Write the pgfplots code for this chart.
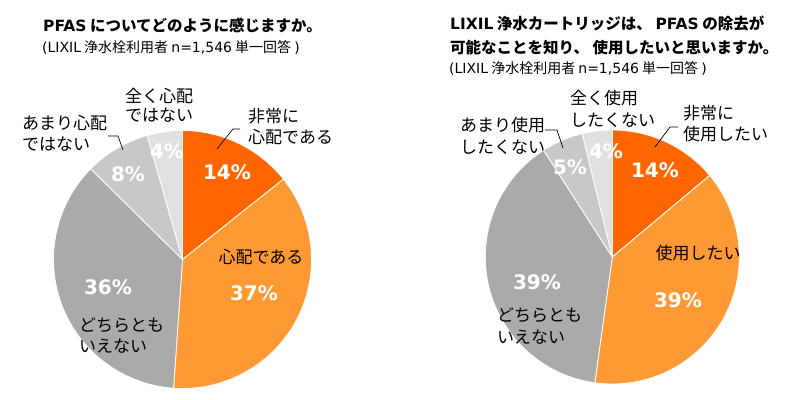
\documentclass[border=0pt]{standalone}
\usepackage{pgfplots}
\pgfplotsset{compat=1.18}
\usepackage{fontspec}
\setmainfont{Noto Sans CJK JP}
\newfontfamily\lat{DejaVu Sans}
\definecolor{cA}{HTML}{FF6600}
\definecolor{cB}{HTML}{FF9933}
\definecolor{cC}{HTML}{AAAAAA}
\definecolor{cD}{HTML}{C8C8C8}
\definecolor{cE}{HTML}{E0E0E0}
\newcommand{\lbl}{\fontsize{17}{21}\selectfont}
\newcommand{\pct}{\fontsize{20}{22}\selectfont\lat\bfseries}
\newcommand{\ttl}{\fontsize{15.5}{18}\selectfont\bfseries}
\newcommand{\sub}{\fontsize{14}{16}\selectfont}
\newcommand{\pieslice}[3]{%
  \addplot[fill=#3, draw=white, line width=0.8pt, domain=#1:#2, samples=80, variable=\t]
    ({cos(\t)},{sin(\t)}) -- (axis cs:0,0) -- cycle;}
\pgfplotsset{pieaxis/.style={hide axis, clip=false, anchor=center,
  xmin=-1, xmax=1, ymin=-1, ymax=1}}
\begin{document}
\begin{tikzpicture}[x=1pt,y=1pt]
\path[use as bounding box] (0,0) rectangle (795,399);
% data (percent)
\def\LA{14.3}\def\LB{36.8}\def\LC{36.3}\def\LD{8.2}\def\LE{4.4}
\def\RA{13.9}\def\RB{38.3}\def\RC{38.7}\def\RD{5.3}\def\RE{3.8}
\pgfmathsetmacro\la{90-3.6*\LA}
\pgfmathsetmacro\lb{\la-3.6*\LB}
\pgfmathsetmacro\lc{\lb-3.6*\LC}
\pgfmathsetmacro\ld{\lc-3.6*\LD}
\pgfmathsetmacro\le{\ld-3.6*\LE}
\pgfmathsetmacro\ra{90-3.6*\RA}
\pgfmathsetmacro\rb{\ra-3.6*\RB}
\pgfmathsetmacro\rc{\rb-3.6*\RC}
\pgfmathsetmacro\rd{\rc-3.6*\RD}
\pgfmathsetmacro\re{\rd-3.6*\RE}
\begin{axis}[pieaxis, x=129pt, y=129pt, at={(182.5pt,139.5pt)}]
\pieslice{\la}{90}{cA}
\pieslice{\lb}{\la}{cB}
\pieslice{\lc}{\lb}{cC}
\pieslice{\ld}{\lc}{cD}
\pieslice{\le}{\ld}{cE}
\end{axis}
\begin{axis}[pieaxis, x=127pt, y=127pt, at={(612.3pt,142pt)}]
\pieslice{\ra}{90}{cA}
\pieslice{\rb}{\ra}{cB}
\pieslice{\rc}{\rb}{cC}
\pieslice{\rd}{\rc}{cD}
\pieslice{\re}{\rd}{cE}
\end{axis}
% titles
\begin{scope}[every node/.style={inner sep=0pt, anchor=west}]
\node[font=\ttl] at (43,374) {{\lat PFAS} についてどのように感じますか。};
\node[font=\sub] at (42,352) {{\lat(LIXIL} 浄水栓利用者 {\lat n=1,546} 単一回答 {\lat)}};
\node[font=\ttl] at (450,375) {{\lat LIXIL} 浄水カートリッジは、 {\lat PFAS} の除去が};
\node[font=\ttl] at (450,351) {可能なことを知り、 使用したいと思いますか。};
\node[font=\sub] at (449,331) {{\lat(LIXIL} 浄水栓利用者 {\lat n=1,546} 単一回答 {\lat)}};
% left labels
\node[font=\lbl] at (248,283) {非常に};
\node[font=\lbl] at (248,262) {心配である};
\node[font=\lbl] at (79,74) {どちらとも};
\node[font=\lbl] at (79,53) {いえない};
\node[font=\lbl] at (22,276) {あまり心配};
\node[font=\lbl] at (22,255) {ではない};
\node[font=\lbl] at (125,303) {全く心配};
\node[font=\lbl] at (125,284) {ではない};
% right labels
\node[font=\lbl] at (683,286) {非常に};
\node[font=\lbl] at (683,265) {使用したい};
\node[font=\lbl] at (497,84) {どちらとも};
\node[font=\lbl] at (497,62) {いえない};
\node[font=\lbl] at (460,274) {あまり使用};
\node[font=\lbl] at (460,252) {したくない};
\node[font=\lbl] at (570,301) {全く使用};
\node[font=\lbl] at (570,279) {したくない};
\end{scope}
\node[font=\lbl, inner sep=0pt] at (261,142) {心配である};
\node[font=\lbl, inner sep=0pt] at (698,146) {使用したい};
% percentages
\begin{scope}[every node/.style={inner sep=0pt, font=\pct, text=white}]
\node at (227,227) {14\%};
\node at (254,106) {37\%};
\node at (108,112) {36\%};
\node at (128,225) {8\%};
\node at (167,248) {4\%};
\node at (655,229) {14\%};
\node at (678,99) {39\%};
\node at (537,117) {39\%};
\node at (570,232) {5\%};
\node at (606,248) {4\%};
\end{scope}
% leader lines
\draw[line width=0.7pt] (217,250) -- (233,270) -- (240,270);
\draw[line width=0.7pt] (108,263) -- (118,263) -- (123,249);
\draw[line width=0.7pt] (655,252) -- (670,272) -- (678,272);
\draw[line width=0.7pt] (545,269) -- (557,269) -- (563,251);
\end{tikzpicture}
\end{document}
